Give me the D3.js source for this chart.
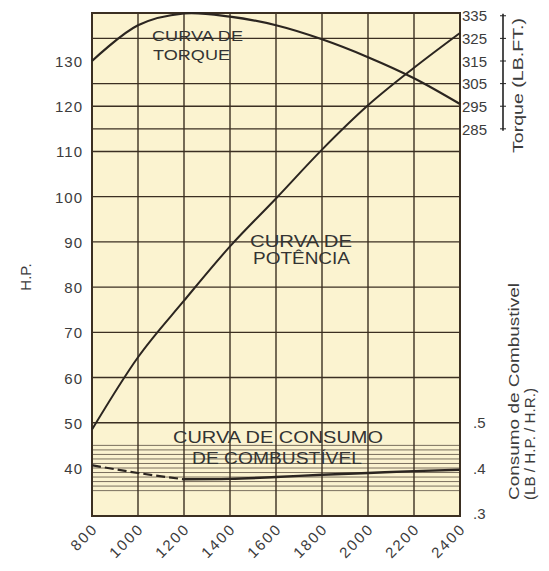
<!DOCTYPE html>
<html>
<head>
<meta charset="utf-8">
<script src="https://cdn.jsdelivr.net/npm/d3@7"></script>
<style>
  body { margin: 0; background: #fff; }
  svg { display: block; font-family: "Liberation Sans", Arial, sans-serif; }
</style>
</head>
<body>
<div id="chart"></div>
<script>
// values
var rpm = [800, 1000, 1200, 1400, 1600, 1800, 2000, 2200, 2400];
var horsepower = [48.5, 64.5, 77, 89, 99.6, 110.4, 120.2, 128.5, 136.2];
var torque = [315, 330.8, 336, 334.6, 330.8, 324.6, 316.7, 307.4, 296];
var consumption = [0.406, 0.389, 0.375, 0.376, 0.380, 0.385, 0.389, 0.393, 0.396];

var rpmTicks = [800, 1000, 1200, 1400, 1600, 1800, 2000, 2200, 2400];
var hpTicks = [40, 50, 60, 70, 80, 90, 100, 110, 120, 130];
var torqueTicks = [285, 295, 305, 315, 325, 335];
var torqueGrid = [285, 295, 305, 325];
var hpGrid = [50, 60, 70, 80, 90, 100, 110];
var consumptionTicks = [0.3, 0.4, 0.5];
var consumptionGrid = [0.35, 0.36, 0.37, 0.38, 0.39, 0.40, 0.41, 0.42, 0.43, 0.44, 0.45];

var width = 549, height = 571;
var plotLeft = 92, plotRight = 460, plotTop = 13, plotBottom = 516;
var gridColor = "#3b2f22";
var inkColor = "#2b2520";
var textColor = "#3c3c3c";

var svg = d3.select("#chart").append("svg")
    .attr("width", width)
    .attr("height", height);

var x = d3.scaleLinear().domain([800, 2400]).range([plotLeft, plotRight]);
var yHP = d3.scaleLinear().domain([40, 130]).range([468, 61]);
// 10 lb.ft of torque take the same height as 5 hp, 295 sits on the 120 hp line
var yT = d3.scaleLinear().domain([285, 335]).range([yHP(115), yHP(140)]);
// .4 lines up with 40 hp, .5 with 50 hp
var yC = d3.scaleLinear().domain([0.3, 0.5]).range([yHP(30), yHP(50)]);

//plot background
svg.append("rect")
    .attr("x", plotLeft).attr("y", plotTop)
    .attr("width", plotRight - plotLeft).attr("height", plotBottom - plotTop)
    .style("fill", "#fbf3d0");

var grid = svg.append("g").attr("class", "grid");

//fine consumption lines
grid.selectAll("line.cons")
    .data(consumptionGrid)
    .enter().append("line")
    .attr("class", "cons")
    .attr("x1", plotLeft).attr("x2", plotRight)
    .attr("y1", function(d){ return yC(d); })
    .attr("y2", function(d){ return yC(d); })
    .style("stroke", "#6b6050").style("stroke-width", 0.9);

grid.selectAll("line.hp")
    .data(hpGrid)
    .enter().append("line")
    .attr("class", "hp")
    .attr("x1", plotLeft).attr("x2", plotRight)
    .attr("y1", function(d){ return yHP(d); })
    .attr("y2", function(d){ return yHP(d); })
    .style("stroke", gridColor).style("stroke-width", 1.4);

grid.selectAll("line.tq")
    .data(torqueGrid)
    .enter().append("line")
    .attr("class", "tq")
    .attr("x1", plotLeft).attr("x2", plotRight)
    .attr("y1", function(d){ return yT(d); })
    .attr("y2", function(d){ return yT(d); })
    .style("stroke", gridColor).style("stroke-width", 1.4);

grid.selectAll("line.rpm")
    .data(rpmTicks)
    .enter().append("line")
    .attr("class", "rpm")
    .attr("x1", function(d){ return x(d); })
    .attr("x2", function(d){ return x(d); })
    .attr("y1", plotTop).attr("y2", plotBottom)
    .style("stroke", gridColor).style("stroke-width", 1.4);

//frame
svg.append("rect")
    .attr("x", plotLeft).attr("y", plotTop)
    .attr("width", plotRight - plotLeft).attr("height", plotBottom - plotTop)
    .style("fill", "none").style("stroke", gridColor).style("stroke-width", 2);

//curve labels (wide lettering)
function wideText(txt, px, py, size, len) {
    svg.append("text")
        .attr("x", px).attr("y", py)
        .attr("font-size", size)
        .attr("textLength", len)
        .attr("lengthAdjust", "spacingAndGlyphs")
        .style("fill", "#333")
        .text(txt);
}
wideText("CURVA DE", 152, 41, 15, 91);
wideText("TORQUE", 153, 60, 15, 77);
wideText("CURVA DE", 250, 247, 16, 102);
wideText("POTÊNCIA", 253, 264, 16, 97);
wideText("CURVA DE CONSUMO", 173, 443, 17, 210);
wideText("DE COMBUSTÍVEL", 192, 464, 17, 170);

//curves
var lineHP = d3.line()
    .x(function(d){ return x(d[0]); })
    .y(function(d){ return yHP(d[1]); })
    .curve(d3.curveMonotoneX);
var lineT = d3.line()
    .x(function(d){ return x(d[0]); })
    .y(function(d){ return yT(d[1]); })
    .curve(d3.curveCatmullRom);
var lineC = d3.line()
    .x(function(d){ return x(d[0]); })
    .y(function(d){ return yC(d[1]); })
    .curve(d3.curveMonotoneX);

svg.append("path")
    .attr("d", lineHP(d3.zip(rpm, horsepower)))
    .style("fill", "none").style("stroke", inkColor).style("stroke-width", 2);

svg.append("path")
    .attr("d", lineT(d3.zip(rpm, torque)))
    .style("fill", "none").style("stroke", inkColor).style("stroke-width", 2.2);

var consPts = d3.zip(rpm, consumption);
svg.append("path")
    .attr("d", lineC(consPts.filter(function(d){ return d[0] <= 1200; })))
    .style("fill", "none").style("stroke", inkColor).style("stroke-width", 2.2)
    .style("stroke-dasharray", "9,4");
svg.append("path")
    .attr("d", lineC(consPts.filter(function(d){ return d[0] >= 1200; })))
    .style("fill", "none").style("stroke", inkColor).style("stroke-width", 2.4);

//left HP labels
svg.selectAll("text.hpLabel")
    .data(hpTicks)
    .enter().append("text")
    .attr("class", "hpLabel")
    .attr("x", 83)
    .attr("y", function(d){ return yHP(d); })
    .attr("dy", "0.4em")
    .attr("text-anchor", "end")
    .attr("font-size", 15)
    .style("letter-spacing", "1px")
    .style("fill", textColor)
    .text(function(d){ return d; });

svg.append("text")
    .attr("transform", "translate(31,277) rotate(-90)")
    .attr("text-anchor", "middle")
    .attr("font-size", 15)
    .style("fill", textColor)
    .text("H.P.");

//rpm labels
svg.selectAll("text.rpmLabel")
    .data(rpmTicks)
    .enter().append("text")
    .attr("class", "rpmLabel")
    .attr("transform", function(d){ return "translate(" + (x(d) + 3) + "," + 526 + ") rotate(-45)"; })
    .attr("dy", "0.35em")
    .attr("text-anchor", "end")
    .attr("font-size", 15)
    .style("letter-spacing", "2px")
    .style("fill", textColor)
    .text(function(d){ return d; });

//torque axis
var tAxis = svg.append("g");
tAxis.append("line")
    .attr("x1", 503).attr("x2", 503)
    .attr("y1", yT(335) - 2).attr("y2", yT(285) + 2)
    .style("stroke", "#222").style("stroke-width", 1.6);
tAxis.selectAll("line.tick")
    .data(torqueTicks)
    .enter().append("line")
    .attr("class", "tick")
    .attr("x1", 500).attr("x2", 506)
    .attr("y1", function(d){ return yT(d); })
    .attr("y2", function(d){ return yT(d); })
    .style("stroke", "#222").style("stroke-width", 1);
tAxis.selectAll("text")
    .data(torqueTicks)
    .enter().append("text")
    .attr("x", 462)
    .attr("y", function(d){ return yT(d); })
    .attr("dy", "0.38em")
    .attr("font-size", 15)
    .style("fill", textColor)
    .text(function(d){ return d; });

svg.append("text")
    .attr("transform", "translate(523,153) rotate(-90)")
    .attr("font-size", 14)
    .attr("textLength", 135)
    .attr("lengthAdjust", "spacingAndGlyphs")
    .style("fill", textColor)
    .text("Torque (LB.FT.)");

//consumption axis
svg.selectAll("text.consLabel")
    .data(consumptionTicks)
    .enter().append("text")
    .attr("class", "consLabel")
    .attr("x", 473)
    .attr("y", function(d){ return yC(d); })
    .attr("dy", "0.38em")
    .attr("font-size", 15)
    .style("fill", textColor)
    .text(function(d){ return d3.format(".1f")(d).replace(/^0/, ""); });

svg.append("text")
    .attr("transform", "translate(519,500) rotate(-90)")
    .attr("font-size", 15)
    .attr("textLength", 217)
    .attr("lengthAdjust", "spacingAndGlyphs")
    .style("fill", textColor)
    .text("Consumo de Combustivel");
svg.append("text")
    .attr("transform", "translate(535,500) rotate(-90)")
    .attr("font-size", 15)
    .attr("textLength", 112)
    .attr("lengthAdjust", "spacingAndGlyphs")
    .style("fill", textColor)
    .text("(LB / H.P. / H.R.)");
</script>
</body>
</html>
